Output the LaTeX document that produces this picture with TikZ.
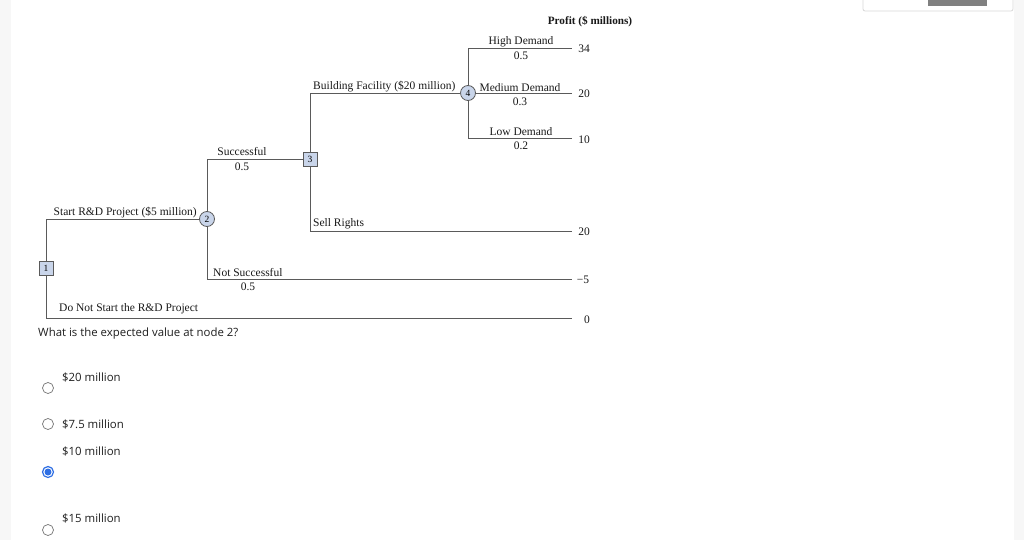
\documentclass[tikz,border=0pt]{standalone}
\usepackage{fontspec}
\setmainfont{Liberation Serif}
\newfontfamily\qfont{Open Sans}
\definecolor{nodeblue}{HTML}{C9D5EA}
\definecolor{linegray}{HTML}{5A5A5A}
\definecolor{radioblue}{HTML}{2F6FE4}
\begin{document}
\begin{tikzpicture}[x=1pt,y=-1pt,
  branch/.style={draw=linegray, line width=0.9pt},
  dec/.style={draw=linegray, fill=nodeblue, line width=0.8pt, minimum size=14pt, inner sep=0pt, font=\fontsize{9.5}{10}\selectfont},
  chance/.style={circle, draw=linegray, fill=nodeblue, line width=0.8pt, minimum size=15pt, inner sep=0pt, font=\fontsize{9.5}{10}\selectfont},
  lbl/.style={font=\fontsize{11.5}{13}\selectfont, inner sep=0pt, text=black!90},
  val/.style={font=\fontsize{11.5}{13}\selectfont, inner sep=0pt, text=black!90},
  qtext/.style={font=\qfont\fontsize{11.4}{13}\selectfont, inner sep=0pt, anchor=west, text=black!88},
  radio/.style={circle, draw=gray!90!black, line width=0.7pt, minimum size=11pt, inner sep=0pt},
  radiosel/.style={circle, draw=radioblue, line width=1.2pt, fill=white, minimum size=11pt, inner sep=0pt}
]
\useasboundingbox (0,0) rectangle (1024,540);
\fill[white] (0,0) rectangle (1024,540);
% page chrome
\fill[black!3] (0,0) rectangle (11,540);
\fill[black!3] (1014,0) rectangle (1024,540);
\draw[black!15, line width=0.8pt, rounded corners=2pt] (863,-3) -- (863,11) -- (1013,11) -- (1013,-3);
\fill[black!50] (928,0) rectangle (987,6);

% nodes
\node[dec] (n1) at (46,268) {1};
\node[chance] (n2) at (207,219) {2};
\node[dec] (n3) at (310,159) {3};
\node[chance] (n4) at (468,93) {4};

% free ends
\coordinate (eH) at (572,48);
\coordinate (eM) at (572,93);
\coordinate (eL) at (572,138);
\coordinate (eS) at (572,231);
\coordinate (eN) at (572,279);
\coordinate (eD) at (572,318);

% branches
\draw[branch] (n1) |- (n2);
\draw[branch] (n1) |- (eD);
\draw[branch] (n2) |- (n3);
\draw[branch] (n2) |- (eN);
\draw[branch] (n3) |- (n4);
\draw[branch] (n3) |- (eS);
\draw[branch] (n4) |- (eH);
\draw[branch] (n4) -- (eM);
\draw[branch] (n4) |- (eL);

% labels
\node[lbl, anchor=east] (lStart) at (197,212.5) {Start R\&D Project (\$5 million)};
\node[lbl, anchor=west] (lDont) at (59,309) {Do Not Start the R\&D Project};
\node[lbl] (lSucc) at (242,151.5) {Successful};
\node[lbl] (pSucc) at (242,167) {0.5};
\node[lbl, anchor=west] (lNot) at (213,272.5) {Not Successful};
\node[lbl] (pNot) at (248,287) {0.5};
\node[lbl, anchor=west] (lBuild) at (313,86.5) {Building Facility (\$20 million)};
\node[lbl, anchor=west] (lSell) at (313,223.5) {Sell Rights};
\node[lbl] (lHigh) at (521,41.5) {High Demand};
\node[lbl] (pHigh) at (521,56) {0.5};
\node[lbl] (lMed) at (520,87.5) {Medium Demand};
\node[lbl] (pMed) at (520,102) {0.3};
\node[lbl] (lLow) at (521,131.5) {Low Demand};
\node[lbl] (pLow) at (521,146) {0.2};

% values
\node[font=\bfseries\fontsize{11.2}{13}\selectfont, inner sep=0pt, text=black!90] (profit) at (590,22) {Profit (\$ millions)};
\node[val] (vH) at (584,49) {34};
\node[val] (vM) at (584,94) {20};
\node[val] (vL) at (584,140) {10};
\node[val] (vS) at (584,232) {20};
\node[val] (vN) at (583,280) {−5};
\node[val] (vD) at (587,320) {0};

% question
\node[qtext] (q) at (38,334) {What is the expected value at node 2?};
\node[qtext] (o1) at (62,377) {\$20 million};
\node[radio] (r1) at (48,388) {};
\node[qtext] (o2) at (62,424) {\$7.5 million};
\node[radio] (r2) at (48,424) {};
\node[qtext] (o3) at (62,451) {\$10 million};
\node[radiosel] (r3) at (48,472) {};
\fill[radioblue] (r3.center) circle (3.5pt);
\node[qtext] (o4) at (62,518) {\$15 million};
\node[radio] (r4) at (48,530) {};
\end{tikzpicture}
\end{document}
